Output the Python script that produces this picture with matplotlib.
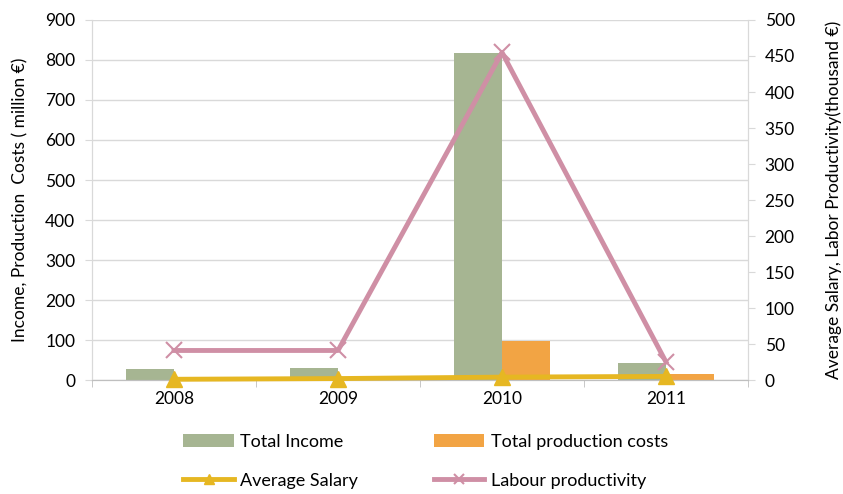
import matplotlib.pyplot as plt
import numpy as np

plt.rcParams['font.family'] = ['Lato', 'DejaVu Sans']

# data
years = ['2008', '2009', '2010', '2011']
total_income = [27, 30, 817, 42]          # million EUR
production_costs = [1, 1, 98, 15]        # million EUR
avg_salary = [1, 2, 4, 5]                 # thousand EUR
labour_productivity = [41, 41, 455, 25]   # thousand EUR

fig = plt.figure(figsize=(8.43, 4.94), dpi=100)
ax = fig.add_axes([92 / 843, 1 - 380 / 494, (748 - 92) / 843, 360 / 494])
ax2 = ax.twinx()

x = np.arange(len(years))
w = 0.29
b1 = ax.bar(x - w / 2, total_income, w, color='#A6B592', label='Total Income', zorder=2)
b2 = ax.bar(x + w / 2, production_costs, w, color='#F2A444', label='Total production costs', zorder=2)

l1, = ax2.plot(x, avg_salary, color='#E6B722', lw=3.5, marker='^', ms=12,
               label='Average Salary', clip_on=False, zorder=3)
l2, = ax2.plot(x, labour_productivity, color='#CF8FA5', lw=3.5, marker='x', ms=11,
               mew=1.5, label='Labour productivity', clip_on=False, zorder=3)

ax.set_xlim(-0.5, 3.5)
ax.set_ylim(0, 900)
ax.set_yticks(range(0, 901, 100))
ax2.set_ylim(0, 500)
ax2.set_yticks(range(0, 501, 50))

ax.set_zorder(ax2.get_zorder() - 1)
ax.patch.set_visible(False)
ax2.set_zorder(1)

ax.yaxis.grid(True, color='#D9D9D9', lw=1)
ax.set_axisbelow(True)

fs = 12.5
ax.set_xticks(x)
ax.set_xticklabels(years)
ax.set_xticks(np.arange(-0.5, 4, 1), minor=True)
ax.tick_params(axis='x', which='major', length=0, pad=8, labelsize=fs)
ax.tick_params(axis='x', which='minor', length=5, color='#BFBFBF')
ax.tick_params(axis='y', length=5, color='#D9D9D9', labelsize=fs, pad=7)
ax2.tick_params(axis='y', length=5, color='#D9D9D9', labelsize=fs, pad=7)

for a in (ax, ax2):
    a.spines['top'].set_visible(False)
    a.spines['left'].set_color('#D9D9D9')
    a.spines['right'].set_color('#D9D9D9')
    a.spines['bottom'].set_color('#BFBFBF')

ax.set_ylabel('Income, Production  Costs ( million €)', fontsize=fs, labelpad=12)
ax2.set_ylabel('Average Salary, Labor Productivity(thousand €)', fontsize=fs, labelpad=22)

fig.legend([b1, l1, b2, l2],
           ['Total Income', 'Average Salary', 'Total production costs', 'Labour productivity'],
           ncol=2, loc='lower center', bbox_to_anchor=(0.505, -0.022), frameon=False,
           fontsize=13, handlelength=2.8, handletextpad=0.35, columnspacing=4.2,
           labelspacing=1.25, markerscale=0.6)

fig.savefig('out.png', dpi=100)
